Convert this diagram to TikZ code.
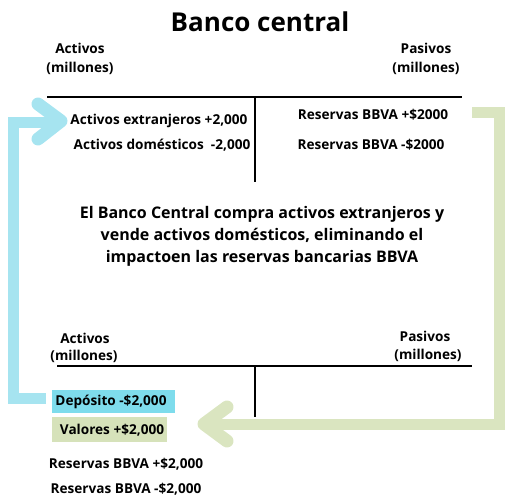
\documentclass[tikz,border=0pt]{standalone}
\usepackage{fontspec}
\setmainfont{Open Sans}
\definecolor{arrblue}{RGB}{166,228,240}
\definecolor{boxblue}{RGB}{126,220,236}
\definecolor{arrgreen}{RGB}{218,229,192}
\definecolor{boxgreen}{RGB}{214,226,186}
\tikzset{
  lbl/.style={font=\bfseries\fontsize{13.6}{16}\selectfont, inner sep=0pt},
  para/.style={font=\bfseries\fontsize{16}{22}\selectfont, inner sep=0pt, align=center},
  tline/.style={line width=1.6pt, black},
  bluearr/.style={line width=11pt, arrblue},
  greenarr/.style={line width=11pt, arrgreen},
  chev/.style={line width=13pt, line cap=round, line join=round},
}
\begin{document}
\begin{tikzpicture}[x=1pt,y=-1pt]
\useasboundingbox (0,0) rectangle (516,502);
% title
\node[font=\bfseries\fontsize{26}{30}\selectfont, inner sep=0pt] (title) at (260,22) {Banco central};
% top T account
\node[lbl] (a1) at (80,48) {Activos};
\node[lbl] (a1m) at (80,68) {(millones)};
\node[lbl] (p1) at (426,48) {Pasivos};
\node[lbl] (p1m) at (426,68) {(millones)};
\coordinate (h1l) at (47,97);
\coordinate (h1r) at (462,97);
\coordinate (v1t) at (255,97);
\coordinate (v1b) at (255,182);
\draw[tline] (h1l) -- (h1r);
\draw[tline] (v1t) -- (v1b);
\node[lbl] (ae) at (159,121) {Activos extranjeros +2,000};
\node[lbl] (ad) at (162,145) {Activos domésticos\ \ -2,000};
\node[lbl] (rp) at (373,115) {Reservas BBVA +\$2000};
\node[lbl] (rm) at (371,145) {Reservas BBVA -\$2000};
% paragraph
\node[para] (txt) at (262,236) {El Banco Central compra activos extranjeros y\\vende activos domésticos, eliminando el\\impactoen las reservas bancarias BBVA};
% bottom T account
\node[lbl] (a2) at (85,338) {Activos};
\node[lbl] (a2m) at (84,356) {(millones)};
\node[lbl] (p2) at (425,336) {Pasivos};
\node[lbl] (p2m) at (428,355) {(millones)};
\coordinate (h2l) at (57,366);
\coordinate (h2r) at (472,366);
\coordinate (v2t) at (255,366);
\coordinate (v2b) at (255,417);
\draw[tline] (h2l) -- (h2r);
\draw[tline] (v2t) -- (v2b);
% boxes
\fill[boxblue] (52,390) rectangle (175,413);
\fill[boxgreen] (52,417) rectangle (167,442);
\node[lbl] (dep) at (111,402) {Depósito -\$2,000};
\node[lbl] (val) at (112,430) {Valores +\$2,000};
\node[lbl] (rb1) at (126,464) {Reservas BBVA +\$2,000};
\node[lbl] (rb2) at (126,489) {Reservas BBVA -\$2,000};
% blue arrow
\coordinate (bs) at (46,398);
\coordinate (bc1) at (13,398);
\coordinate (bc2) at (13,123);
\coordinate (be) at (58,123);
\draw[bluearr] (bs) -- (bc1) -- (bc2) -- (be);
\coordinate (bt) at (61,121);
\draw[chev, arrblue] (38,104) -- (bt) -- (38,139);
% green arrow
\coordinate (gs) at (472,113);
\coordinate (gc1) at (499,113);
\coordinate (gc2) at (499,424);
\coordinate (ge) at (210,424);
\draw[greenarr] (gs) -- (gc1) -- (gc2) -- (ge);
\coordinate (gt) at (204,424);
\draw[chev, arrgreen] (227,407) -- (gt) -- (227,441);
\end{tikzpicture}
\end{document}
